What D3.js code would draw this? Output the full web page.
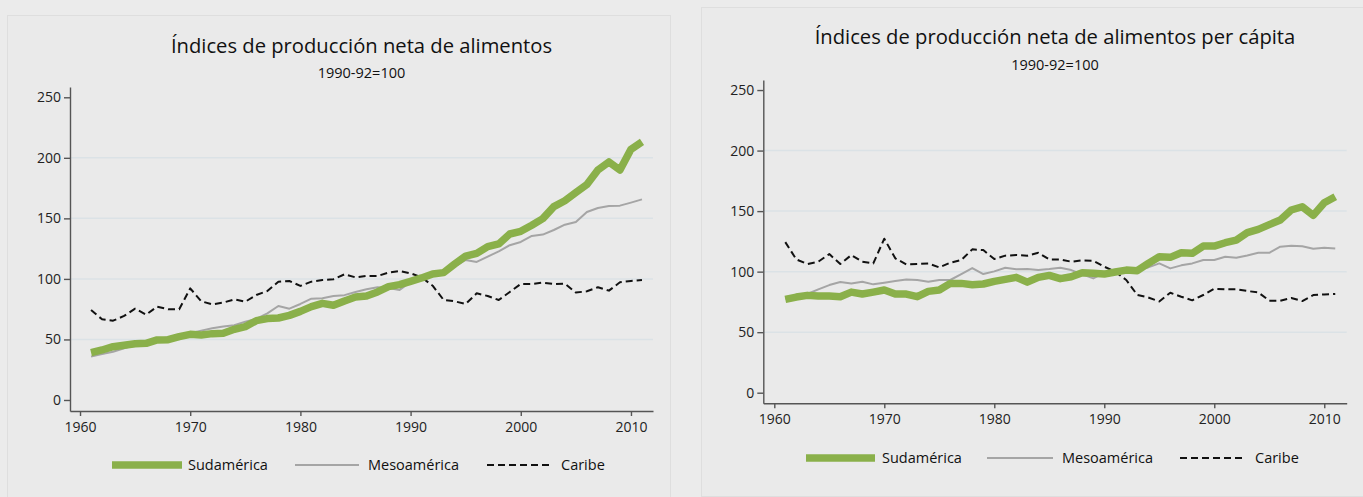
<!DOCTYPE html>
<html>
<head>
<meta charset="utf-8">
<script src="https://cdn.jsdelivr.net/npm/d3@7"></script>
<style>
  html, body { margin: 0; padding: 0; background: #ebebeb; }
  svg { display: block; font-family: "Open Sans", "Noto Sans", sans-serif; }
</style>
</head>
<body>
<svg id="chart" width="1363" height="497"></svg>
<script>
const years = d3.range(1961, 2012);
const xTicks = [1960, 1970, 1980, 1990, 2000, 2010];
const yTicks = [0, 50, 100, 150, 200, 250];
const gridTicks = [50, 100, 150, 200];
const seriesNames = ["Sudamérica", "Mesoamérica", "Caribe"];

// Índices de producción neta de alimentos
const sudTotal = [39.1, 41.3, 44, 45.2, 46.5, 46.8, 49.6, 49.8, 52.3, 54.2,
  53.7, 54.8, 55.1, 58.4, 60.6, 65.5, 67.2, 67.7, 69.9, 73.2,
  77.1, 79.8, 78.2, 81.8, 85, 85.9, 89.2, 93.6, 95.3, 98,
  100.8, 104.1, 105.2, 112.3, 118.9, 121.1, 126.7, 128.9, 137.1, 139.3,
  144.3, 149.8, 159.7, 164.6, 171.3, 177.9, 190, 196.6, 190, 207, 213.1];
const mesoTotal = [35.8, 38, 39.9, 42.7, 45.4, 48.2, 50.1, 51.8, 53.7, 55.1,
  57.3, 59.2, 60.6, 61.7, 64.7, 66.9, 71.6, 77.6, 75.4, 79.3,
  83.7, 84, 85.9, 86.6, 89.2, 91.4, 93.1, 92.5, 90.9, 97.5,
  100.2, 102.4, 105.7, 110.1, 115.6, 114, 118.4, 122.8, 127.8, 130.5,
  135.5, 136.6, 140.4, 144.8, 147, 155.3, 158.6, 160.2, 160.5, 163, 165.7];
const caribeTotal = [74.3, 66.6, 65.5, 69.4, 75.4, 70.5, 77.1, 74.9, 74.9, 92.2,
  81.5, 79, 80.4, 83.1, 81.2, 86.7, 90, 97.7, 98.3, 94.2,
  97.7, 99.1, 99.7, 103.8, 101.3, 102.4, 102.4, 105.2, 106.6, 104.6,
  101.3, 94.4, 82.6, 81.5, 79.3, 88.1, 85.9, 82.6, 89.2, 95.8,
  95.8, 96.9, 95.8, 96.1, 88.7, 89.8, 93.1, 90.3, 97.2, 98.3, 99.1];

// Índices de producción neta de alimentos per cápita
const sudCapita = [77.1, 79, 80.4, 79.8, 79.8, 79.3, 83.1, 81.5, 83.1, 84.8,
  81.5, 81.5, 79.3, 83.7, 84.8, 90.3, 90.3, 89.2, 89.8, 92,
  93.6, 95.3, 91.3, 95.3, 96.9, 94.2, 95.8, 99.1, 98.6, 98,
  99.7, 101.3, 100.8, 106.8, 112.3, 111.8, 115.6, 115.1, 121.1, 121.1,
  123.9, 126.1, 132.2, 134.9, 138.8, 142.6, 150.9, 153.6, 146.5, 156.9, 161.9];
const mesoCapita = [77.6, 80.4, 81.5, 85.4, 88.9, 91.4, 90.3, 91.7, 89.5, 90.9,
  92.2, 93.6, 93.1, 91.7, 93.1, 93.1, 98, 103, 98, 100.2,
  103.2, 101.9, 102.2, 101.3, 102.1, 103.2, 101.3, 97.7, 94.4, 99.1,
  100.2, 100.5, 101.9, 103.5, 106.8, 102.7, 105.2, 106.8, 109.6, 109.6,
  112.3, 111.5, 113.4, 115.6, 115.6, 120.6, 121.4, 120.9, 118.9, 119.8, 119.2];
const caribeCapita = [124.4, 110.1, 106.3, 108.2, 114.5, 106.3, 113.7, 108.2, 106.8, 127.2,
  111, 106, 106.3, 106.8, 103.5, 107.4, 109.6, 118.4, 117.8, 110.4,
  113.2, 113.7, 113.2, 115.6, 110.1, 110.1, 108.2, 109.3, 109, 104.1,
  99.9, 93.1, 80.7, 78.7, 75.4, 82.6, 79.3, 76.3, 80.7, 85.9,
  85.4, 85.4, 84, 82.9, 76, 76, 78.2, 75.7, 80.7, 81.2, 81.5];

const svg = d3.select("#chart");

const styles = [
  { stroke: "#8ab04a", width: 7.5, dash: null },
  { stroke: "#a5a5a5", width: 2, dash: null },
  { stroke: "#111", width: 2, dash: "7,4" }
];

const panels = [
  {
    box: [7, 15, 663, 490],
    title: "Índices de producción neta de alimentos", titleY: 53, titleW: 381,
    subY: 78,
    x: [70, 653], xDomain: [1959.09, 2012],
    y: [411, 87], yDomain: [-9.1, 258.5],
    series: [sudTotal, mesoTotal, caribeTotal],
    legendY: 465,
    legend: [[112, 182, 188], [295, 359, 368], [487, 552, 561]]
  },
  {
    box: [701, 7, 670, 489],
    title: "Índices de producción neta de alimentos per cápita", titleY: 44, titleW: 481,
    subY: 70,
    x: [763.3, 1346.7], xDomain: [1959, 2012.04],
    y: [403.3, 80], yDomain: [-8.75, 258.3],
    series: [sudCapita, mesoCapita, caribeCapita],
    legendY: 458,
    legend: [[806, 875, 882], [987, 1053, 1062], [1180, 1246, 1255]]
  }
];

panels.forEach(p => {
  const g = svg.append("g");

  g.append("rect")
    .attr("x", p.box[0] + 0.5).attr("y", p.box[1] + 0.5)
    .attr("width", p.box[2]).attr("height", p.box[3])
    .attr("fill", "#eaeaea")
    .attr("stroke", "#dedede");

  const x = d3.scaleLinear().domain(p.xDomain).range(p.x);
  const y = d3.scaleLinear().domain(p.yDomain).range(p.y);

  // gridlines
  g.append("g")
    .selectAll("line")
    .data(gridTicks)
    .join("line")
    .attr("x1", p.x[0]).attr("x2", p.x[1])
    .attr("y1", d => y(d)).attr("y2", d => y(d))
    .attr("stroke", "#dbe2e6")
    .attr("stroke-width", 1.5);

  // axes
  const yAxis = g.append("g")
    .attr("transform", `translate(${p.x[0]},0)`)
    .call(d3.axisLeft(y).tickValues(yTicks).tickSize(6).tickPadding(3).tickSizeOuter(0));
  const xAxis = g.append("g")
    .attr("transform", `translate(0,${p.y[0]})`)
    .call(d3.axisBottom(x).tickValues(xTicks).tickFormat(d3.format("d")).tickSize(5).tickPadding(6).tickSizeOuter(0));
  [yAxis, xAxis].forEach(a => {
    a.selectAll("path, line").attr("stroke", "#555").attr("stroke-width", 1.4);
    a.selectAll("text").attr("fill", "#222").style("font-size", "14px")
      .style("font-family", '"Open Sans", sans-serif');
  });

  // lines
  const line = d3.line().x((d, i) => x(years[i])).y(d => y(d));
  [1, 2, 0].forEach(k => {
    g.append("path")
      .datum(p.series[k])
      .attr("d", line)
      .attr("fill", "none")
      .attr("stroke", styles[k].stroke)
      .attr("stroke-width", styles[k].width)
      .attr("stroke-dasharray", styles[k].dash)
      .attr("stroke-linejoin", "round");
  });

  // titles
  const cx = (p.x[0] + p.x[1]) / 2;
  const title = g.append("text")
    .attr("x", cx).attr("y", p.titleY)
    .attr("text-anchor", "middle")
    .attr("fill", "#111")
    .style("font-size", "20px")
    .text(p.title);
  const w = title.node().getComputedTextLength();
  title.style("font-size", (20 * p.titleW / w).toFixed(2) + "px");

  g.append("text")
    .attr("x", cx).attr("y", p.subY)
    .attr("text-anchor", "middle")
    .attr("fill", "#111")
    .style("font-size", "14.5px")
    .text("1990-92=100");

  // legend
  p.legend.forEach((pos, k) => {
    g.append("line")
      .attr("x1", pos[0]).attr("x2", pos[1])
      .attr("y1", p.legendY).attr("y2", p.legendY)
      .attr("stroke", styles[k].stroke)
      .attr("stroke-width", styles[k].width)
      .attr("stroke-dasharray", styles[k].dash);
    g.append("text")
      .attr("x", pos[2]).attr("y", p.legendY)
      .attr("dy", "0.35em")
      .attr("fill", "#111")
      .style("font-size", "14.5px")
      .text(seriesNames[k]);
  });
});
</script>
</body>
</html>
